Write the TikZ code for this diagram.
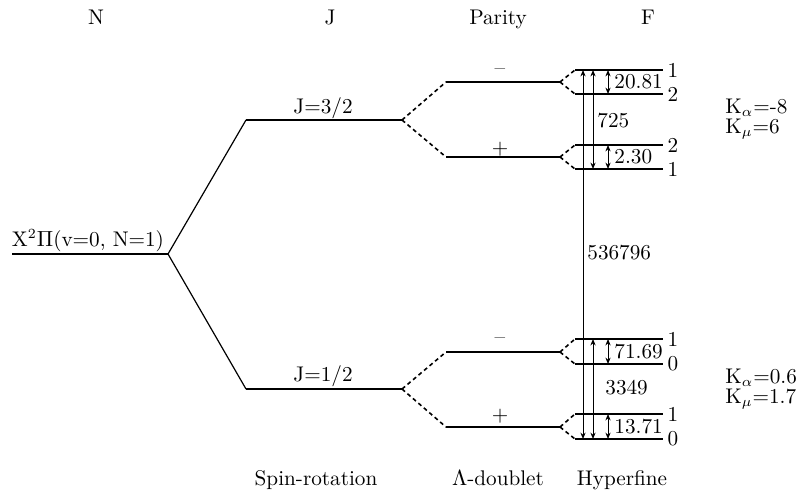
\documentclass[tikz,border=0pt]{standalone}
\usetikzlibrary{arrows.meta}
\begin{document}
\begin{tikzpicture}[x=0.5pt,y=-0.5pt,
  every node/.style={font=\fontsize{10.6}{12.7}\selectfont, inner sep=0pt},
  lvl/.style={line width=1pt},
  diag/.style={line width=0.6pt},
  dsh/.style={line width=0.8pt, dash pattern=on 2pt off 1.6pt},
  dar/.style={line width=0.5pt, {Stealth[length=3.2pt,width=2.6pt]}-{Stealth[length=3.2pt,width=2.6pt]}},
  hdr/.style={anchor=base},
  num/.style={anchor=west},
  flab/.style={anchor=center}
]
\useasboundingbox (0,0) rectangle (806,493);

% ---- headers
\node[hdr] (hN) at (96,24) {N};
\node[hdr] (hJ) at (330,24) {J};
\node[hdr] (hP) at (498,24) {Parity};
\node[hdr] (hF) at (648,24) {F};
% ---- footers
\node[hdr] (fS) at (316,485) {Spin-rotation};
\node[hdr] (fL) at (498,485) {$\Lambda$-doublet};
\node[hdr] (fH) at (622,485) {Hyperfine};

% ---- level coordinates
\coordinate (gL) at (12,254);  \coordinate (gR) at (168,254);
\coordinate (j3L) at (246,120); \coordinate (j3R) at (402,120);
\coordinate (j1L) at (246,389); \coordinate (j1R) at (402,389);
\coordinate (pmL) at (446,82);  \coordinate (pmR) at (560,82);
\coordinate (ppL) at (446,157); \coordinate (ppR) at (560,157);
\coordinate (qmL) at (446,352); \coordinate (qmR) at (560,352);
\coordinate (qpL) at (446,427); \coordinate (qpR) at (560,427);
\coordinate (a1L) at (575,70);  \coordinate (a1R) at (663,70);
\coordinate (a2L) at (575,94);  \coordinate (a2R) at (663,94);
\coordinate (b2L) at (575,145); \coordinate (b2R) at (663,145);
\coordinate (b1L) at (575,169); \coordinate (b1R) at (663,169);
\coordinate (c1L) at (575,339); \coordinate (c1R) at (663,339);
\coordinate (c0L) at (575,364); \coordinate (c0R) at (663,364);
\coordinate (d1L) at (575,414); \coordinate (d1R) at (663,414);
\coordinate (d0L) at (575,439); \coordinate (d0R) at (663,439);
\coordinate (xA) at (583,0);
\coordinate (xB) at (593,0);
\coordinate (xC) at (608,0);

% ---- levels
\draw[lvl] (gL) -- (gR);
\draw[lvl] (j3L) -- (j3R);
\draw[lvl] (j1L) -- (j1R);
\foreach \n in {pm,pp,qm,qp,a1,a2,b2,b1,c1,c0,d1,d0}
  \draw[lvl] (\n L) -- (\n R);

% ---- splitting connectors
\draw[diag] (gR) -- (j3L);
\draw[diag] (gR) -- (j1L);
\draw[dsh] (j3R) -- (pmL);
\draw[dsh] (j3R) -- (ppL);
\draw[dsh] (j1R) -- (qmL);
\draw[dsh] (j1R) -- (qpL);
\draw[dsh] (pmR) -- (a1L);
\draw[dsh] (pmR) -- (a2L);
\draw[dsh] (ppR) -- (b2L);
\draw[dsh] (ppR) -- (b1L);
\draw[dsh] (qmR) -- (c1L);
\draw[dsh] (qmR) -- (c0L);
\draw[dsh] (qpR) -- (d1L);
\draw[dsh] (qpR) -- (d0L);

% ---- level labels
\node[anchor=base] (lg) at (88,246) {X$^2\Pi$(v=0, N=1)};
\node[anchor=base] (l32) at (323,113) {J=3/2};
\node[anchor=base] (l12) at (323,381) {J=1/2};
\node (sm1) at (500,72) {--};
\node (sp1) at (500,149) {+};
\node (sm2) at (500,341) {--};
\node (sp2) at (500,416) {+};

% ---- F labels
\node[flab] (F1) at (673,70) {1};
\node[flab] (F2) at (673,94) {2};
\node[flab] (F3) at (673,145) {2};
\node[flab] (F4) at (673,169) {1};
\node[flab] (F5) at (673,339) {1};
\node[flab] (F6) at (673,364) {0};
\node[flab] (F7) at (673,414) {1};
\node[flab] (F8) at (673,439) {0};

% ---- interval arrows
\draw[dar] (xA |- a1L) -- (xA |- d0L);
\draw[dar] (xB |- a1L) -- (xB |- b1L);
\draw[dar] (xC |- a1L) -- (xC |- a2L);
\draw[dar] (xC |- b2L) -- (xC |- b1L);
\draw[dar] (xB |- c1L) -- (xB |- d0L);
\draw[dar] (xC |- c1L) -- (xC |- c0L);
\draw[dar] (xC |- d1L) -- (xC |- d0L);

\node[num] (n1) at (614,82) {20.81};
\node[num] (n2) at (614,157) {2.30};
\node[num] (n3) at (597,121) {725};
\node[num] (n4) at (587,253) {536796};
\node[num] (n5) at (614,352) {71.69};
\node[num] (n6) at (614,427) {13.71};
\node[num] (n7) at (605,388) {3349};

% ---- K labels
\node[anchor=base west] (ka1) at (725,113) {K$_\alpha$=-8};
\node[anchor=base west] (km1) at (725,133) {K$_\mu$=6};
\node[anchor=base west] (ka2) at (725,383) {K$_\alpha$=0.6};
\node[anchor=base west] (km2) at (725,403) {K$_\mu$=1.7};
\end{tikzpicture}
\end{document}
